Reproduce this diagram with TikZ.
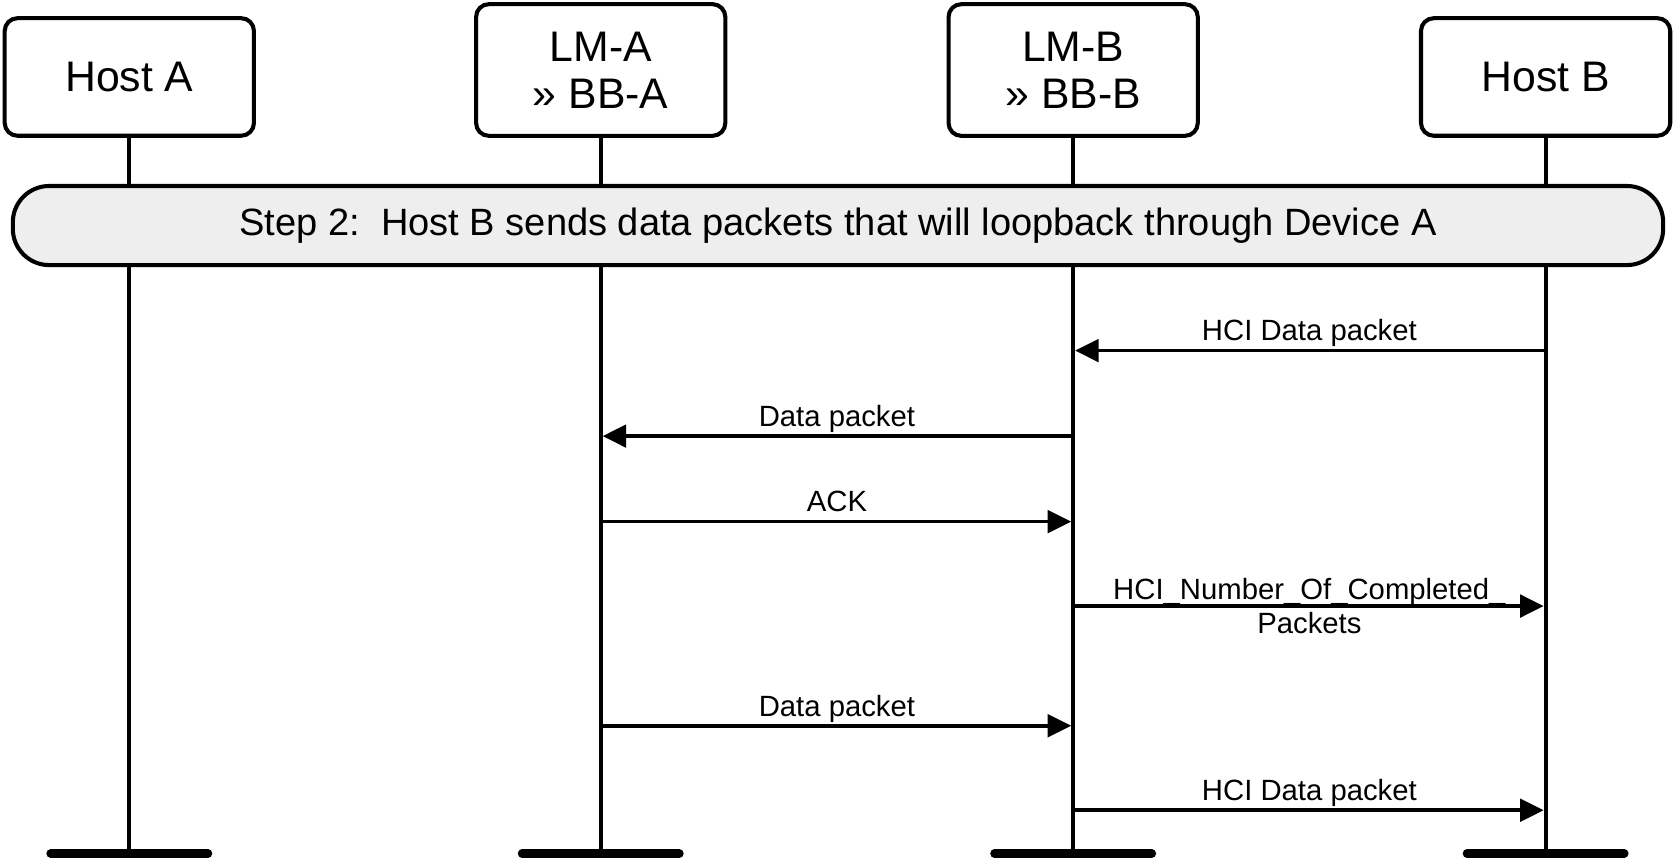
\documentclass[tikz,border=0pt]{standalone}
\usepackage{fontspec}
\setmainfont{Liberation Sans}
\usetikzlibrary{arrows.meta}
\definecolor{bannerfill}{RGB}{238,238,238}
\begin{document}
\begin{tikzpicture}[x=0.5pt,y=-0.5pt,
  box/.style={draw,line width=1.9pt,rounded corners=6pt,minimum width=116.6pt,align=center,
    font=\fontsize{20}{22}\selectfont,inner sep=0pt},
  life/.style={line width=1.9pt},
  bar/.style={line width=4pt,line cap=round},
  msg/.style={line width=1.7pt,shorten >=0.9pt,-{Triangle[length=11pt,width=10.5pt]}},
  lbl/.style={font=\fontsize{13.7}{16}\selectfont,inner sep=0pt,anchor=base,yshift=4.5pt},
  lbltwo/.style={font=\fontsize{13.7}{16}\selectfont,inner sep=0pt,align=center}]
\useasboundingbox (0,0) rectangle (1568,803);
% header boxes
\node[box,minimum height=55pt] (hostA) at (121,72) {Host A};
\node[box,minimum height=61.6pt] (lmA) at (562,65.5) {LM-A\\» BB-A};
\node[box,minimum height=61.6pt] (lmB) at (1004,65.5) {LM-B\\» BB-B};
\node[box,minimum height=55pt] (hostB) at (1446,72) {Host B};
% lifeline ends
\coordinate (endA) at (121,798.5);
\coordinate (endLA) at (562,798.5);
\coordinate (endLB) at (1004,798.5);
\coordinate (endB) at (1446,798.5);
\draw[life] (hostA.south) -- (endA);
\draw[life] (lmA.south) -- (endLA);
\draw[life] (lmB.south) -- (endLB);
\draw[life] (hostB.south) -- (endB);
\foreach \e in {endA,endLA,endLB,endB}{
  \draw[bar] ([xshift=-36.8pt]\e) -- ([xshift=36.8pt]\e);
}
% banner
\node[draw,line width=1.9pt,fill=bannerfill,rounded corners=17pt,minimum width=772pt,
  minimum height=37pt,font=\fontsize{17.8}{20}\selectfont] (step) at (784,211)
  {Step 2:\ \ Host B sends data packets that will loopback through Device A};
% messages
\coordinate (m1) at (0,328);
\coordinate (m2) at (0,408);
\coordinate (m3) at (0,488);
\coordinate (m4) at (0,567);
\coordinate (m5) at (0,679);
\coordinate (m6) at (0,758);
\draw[msg] (hostB |- m1) -- node[lbl] {HCI Data packet} (lmB |- m1);
\draw[msg] (lmB |- m2) -- node[lbl] {Data packet} (lmA |- m2);
\draw[msg] (lmA |- m3) -- node[lbl] {ACK} (lmB |- m3);
\draw[msg] (lmB |- m4) -- node[lbltwo] {HCI\_Number\_Of\_Completed\_\\Packets} (hostB |- m4);
\draw[msg] (lmA |- m5) -- node[lbl] {Data packet} (lmB |- m5);
\draw[msg] (lmB |- m6) -- node[lbl] {HCI Data packet} (hostB |- m6);
\end{tikzpicture}
\end{document}
